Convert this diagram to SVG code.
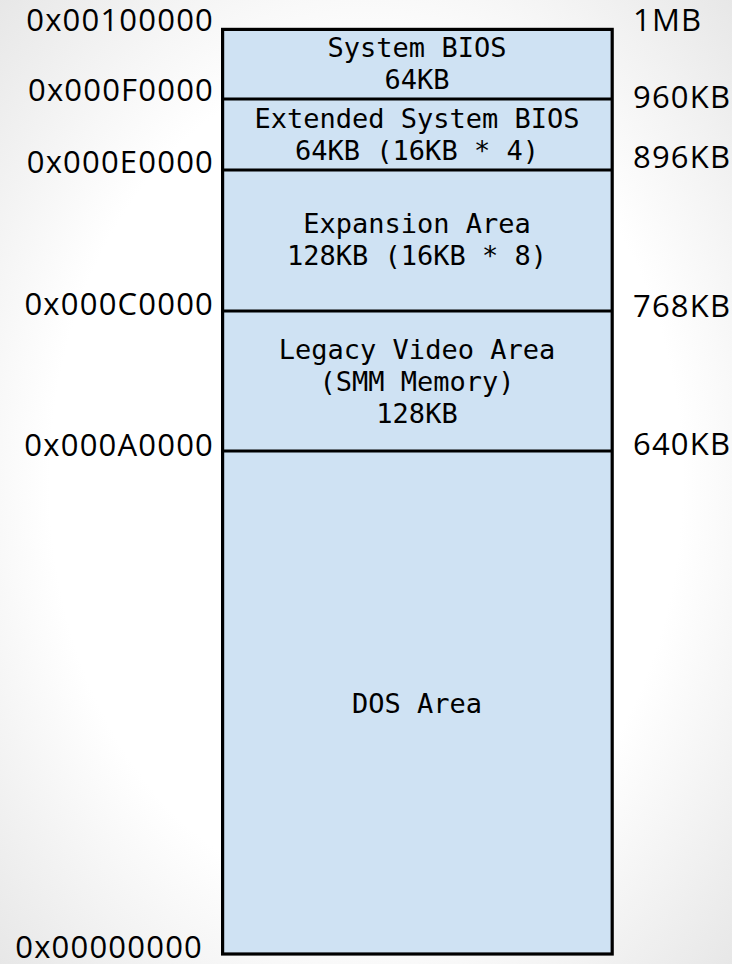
<svg xmlns="http://www.w3.org/2000/svg" width="732" height="964" viewBox="0 0 732 964">
<defs>
<radialGradient id="bg" cx="50%" cy="50%" r="72%">
<stop offset="0" stop-color="#ffffff"/>
<stop offset="0.6" stop-color="#ffffff"/>
<stop offset="1" stop-color="#e6e6e6"/>
</radialGradient>
<style>
.box{fill:#cfe2f3;stroke:#000;stroke-width:3.2}
.div{stroke:#000;stroke-width:3.2;fill:none}
.in{font-family:"DejaVu Sans Mono",monospace;font-size:27px;fill:#000;text-anchor:middle}
.addr{font-family:"Open Sans","Noto Sans",sans-serif;font-size:31px;fill:#000;letter-spacing:1.2px}
.l{text-anchor:end}
</style>
</defs>
<rect width="732" height="964" fill="url(#bg)"/>
<g id="memory-map">
<rect class="box" x="222.6" y="29.4" width="389.6" height="924.6"/>
</g>
<g id="dividers">
<line class="div" x1="222.6" y1="99" x2="612.2" y2="99"/>
<line class="div" x1="222.6" y1="170" x2="612.2" y2="170"/>
<line class="div" x1="222.6" y1="311" x2="612.2" y2="311"/>
<line class="div" x1="222.6" y1="451" x2="612.2" y2="451"/>
</g>
<g id="system-bios">
<text class="in" x="417" y="57">System BIOS</text>
<text class="in" x="417" y="89">64KB</text>
</g>
<g id="extended-bios">
<text class="in" x="417" y="128">Extended System BIOS</text>
<text class="in" x="417" y="160">64KB (16KB * 4)</text>
</g>
<g id="expansion">
<text class="in" x="417" y="233">Expansion Area</text>
<text class="in" x="417" y="265">128KB (16KB * 8)</text>
</g>
<g id="legacy-video">
<text class="in" x="417" y="359">Legacy Video Area</text>
<text class="in" x="417" y="391">(SMM Memory)</text>
<text class="in" x="417" y="423">128KB</text>
</g>
<g id="dos">
<text class="in" x="417" y="713">DOS Area</text>
</g>
<g id="addresses">
<text class="addr l" x="214" y="31">0x00100000</text>
<text class="addr l" x="214" y="101">0x000F0000</text>
<text class="addr l" x="214" y="173">0x000E0000</text>
<text class="addr l" x="214" y="315">0x000C0000</text>
<text class="addr l" x="214" y="456">0x000A0000</text>
<text class="addr l" x="203" y="958">0x00000000</text>
</g>
<g id="sizes">
<text class="addr" x="633" y="31">1MB</text>
<text class="addr" x="633" y="108">960KB</text>
<text class="addr" x="633" y="168">896KB</text>
<text class="addr" x="633" y="317">768KB</text>
<text class="addr" x="633" y="455">640KB</text>
</g>
</svg>
